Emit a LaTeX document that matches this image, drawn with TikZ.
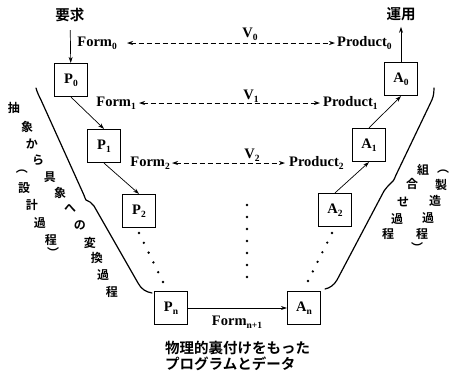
\documentclass[tikz,border=0pt]{standalone}
\usepackage{fontspec}
\setmainfont{Liberation Serif}
\newfontfamily\jpfont[BoldFont={Noto Sans CJK JP Bold}]{Noto Sans CJK JP}
\usetikzlibrary{arrows.meta}
\newcommand\mysub[1]{\raisebox{-0.45ex}{\fontsize{9.5}{10}\selectfont #1}}
\begin{document}
\begin{tikzpicture}[x=1pt,y=-1pt,
  lat/.style={font=\fontsize{14.5}{16}\selectfont\bfseries},
  pbox/.style={draw,line width=1.2pt,minimum width=33pt,minimum height=33pt,inner sep=0pt,lat},
  lbl/.style={lat,inner sep=1pt,text height=10pt,text depth=3pt},
  jp/.style={font=\fontsize{14.5}{16}\selectfont\jpfont\bfseries,inner sep=0pt},
  vj/.style={font=\fontsize{12}{12}\selectfont\jpfont\bfseries,inner sep=0pt},
  flow/.style={line width=0.7pt,-{Stealth[length=6pt,width=4pt]}},
  dash2/.style={line width=0.8pt,dash pattern=on 5pt off 3pt,{Stealth[length=6pt,width=4pt]}-{Stealth[length=6pt,width=4pt]}},
  brace/.style={line width=1.2pt,line cap=round,line join=round}
]
\useasboundingbox (0,0) rectangle (451,376);

% boxes
\node[pbox] (P0) at (71,80) {P\mysub{0}};
\node[pbox] (P1) at (104,146) {P\mysub{1}};
\node[pbox] (P2) at (139,211) {P\mysub{2}};
\node[pbox] (Pn) at (171,308) {P\mysub{n}};
\node[pbox] (A0) at (401,79) {A\mysub{0}};
\node[pbox] (A1) at (369,145) {A\mysub{1}};
\node[pbox] (A2) at (335,210) {A\mysub{2}};
\node[pbox] (An) at (304,308) {A\mysub{n}};

% top texts
\node[jp] (req) at (70,15) {要求};
\node[jp] (use) at (401,14) {運用};

% labels
\node[lbl,anchor=east] (F0) at (118,43) {Form\mysub{0}};
\node[lbl,anchor=east] (F1) at (137,103) {Form\mysub{1}};
\node[lbl,anchor=east] (F2) at (171,163) {Form\mysub{2}};
\node[lbl,anchor=west] (R0) at (336,43) {Product\mysub{0}};
\node[lbl,anchor=west] (R1) at (322,103) {Product\mysub{1}};
\node[lbl,anchor=west] (R2) at (288,163) {Product\mysub{2}};
\node[lbl] (V0) at (250,34) {V\mysub{0}};
\node[lbl] (V1) at (251,96) {V\mysub{1}};
\node[lbl] (V2) at (252,155) {V\mysub{2}};
\node[lbl] (Fn) at (237,322) {Form\mysub{n+1}};

% connectors
\draw[flow,shorten <=8pt] (req) -- (P0);
\draw[flow] (P0.south) -- (P1.north);
\draw[flow] (P1.south) -- (P2.north);
\draw[flow] (A2.north) -- (A1.south);
\draw[flow] (A1.north) -- (A0.south);
\draw[flow,shorten >=6pt] (A0) -- (use);
\draw[flow] (Pn) -- (An);
\draw[dash2,shorten <=9pt,shorten >=1pt] (F0.east) -- (R0.west);
\draw[dash2,shorten <=2pt,shorten >=2pt] (F1.east) -- (R1.west);
\draw[dash2,shorten <=1pt,shorten >=3pt] (F2.east) -- (R2.west);

% dots
\foreach \i in {0,...,5} {
  \fill (139+4.8*\i,233+9.8*\i) circle (1.3pt);
  \fill (332-4.8*\i,233+9.6*\i) circle (1.3pt);
}
\foreach \i in {0,...,6} \fill (247,205+12*\i) circle (1.3pt);

% braces
\draw[brace] (36,88) .. controls (37,92) and (39,96) .. (41,100) -- (83,193)
  .. controls (85,197) and (85,199) .. (86,200)
  .. controls (89,201) and (92,203) .. (94,206) -- (138,283)
  .. controls (141,289) and (146,292) .. (152,293);
\draw[brace] (434,88) .. controls (434,95) and (433,98) .. (430,104) -- (396,175)
  .. controls (394,180) and (393,182) .. (390,184)
  .. controls (388,186) and (386,188) .. (384,191) -- (337,280)
  .. controls (334,285) and (330,288) .. (325,289);

% vertical texts
\foreach \c/\x/\y [count=\i] in {抽/14/108,象/27/127,か/32/144,ら/38/160,具/50/177,象/60/193,へ/70/208,の/80/225,変/90/243,換/97/258,過/103/275,程/112/292}
  \node[vj] (la\i) at (\x,\y) {\c};
\foreach \c/\x/\y [count=\i] in {︵/22/172,設/24/188,計/32/205,過/40/223,程/51/240,︶/53/252}
  \node[vj] (lb\i) at (\x,\y) {\c};
\foreach \c/\x/\y [count=\i] in {組/423/170,合/412/184,せ/403/202,過/397/219,程/388/234}
  \node[vj] (ra\i) at (\x,\y) {\c};
\foreach \c/\x/\y [count=\i] in {︵/443/172,製/441/185,造/435/201,過/428/218,程/422/234,︶/417/247}
  \node[vj] (rb\i) at (\x,\y) {\c};

% bottom text
\node[jp,anchor=west] (phys) at (165,348) {物理的裏付けをもった};
\node[jp,anchor=west] (prog) at (165,364) {プログラムとデータ};
\end{tikzpicture}
\end{document}
